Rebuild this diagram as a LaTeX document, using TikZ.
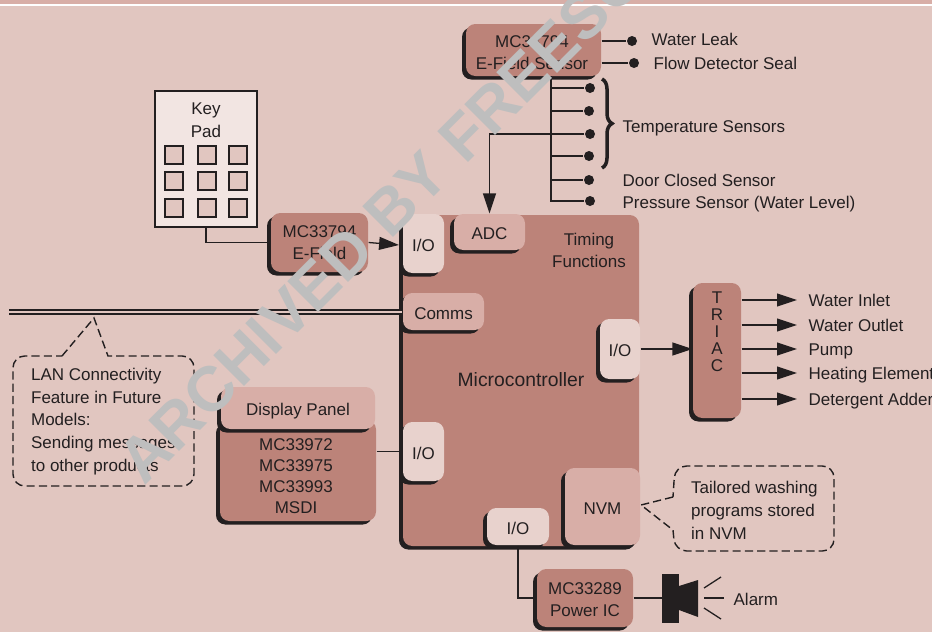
\documentclass[tikz,border=0pt]{standalone}
\usepackage{fontspec}
\setmainfont{Liberation Sans}
\usetikzlibrary{arrows.meta,shadows,decorations.pathreplacing}
\definecolor{pagebg}{HTML}{E1C6C0}
\definecolor{stripbg}{HTML}{D8AEA7}
\definecolor{darkfill}{HTML}{BC8379}
\definecolor{midfill}{HTML}{D8AEA7}
\definecolor{lightfill}{HTML}{E8D2CD}
\definecolor{padfill}{HTML}{F2E5E2}
\definecolor{ink}{HTML}{231F20}
\definecolor{stamp}{HTML}{BEBEBE}
\tikzset{
    every node/.style={font=\fontsize{14.5}{18.8}\selectfont, text=ink},
    shadowed/.style={general shadow={fill=ink, shadow xshift=-3.4pt, shadow yshift=-3pt}},
    darkbox/.style={shadowed, fill=darkfill, rounded corners=8pt, inner sep=0pt, align=center},
    midbox/.style={shadowed, fill=midfill, rounded corners=8pt, inner sep=0pt, text height=13.5pt, text depth=0pt},
    lightbox/.style={shadowed, fill=lightfill, rounded corners=8pt, inner sep=0pt, text height=13.5pt, text depth=0pt},
    keybox/.style={draw=ink, line width=1.5pt, fill=pagebg, minimum size=0.52cm, inner sep=0pt},
    dot/.style={circle, fill=ink, minimum size=0.3cm, inner sep=0pt},
    tag/.style={anchor=west, inner sep=0pt, text height=10.4pt, text depth=0pt},
    outtag/.style={anchor=west, inner xsep=0.33cm, inner ysep=0pt, text height=10.4pt, text depth=0pt},
    notetext/.style={anchor=west, align=left, inner sep=0pt, font=\fontsize{14.5}{19.4}\selectfont},
    callout/.style={draw=ink, line width=1.2pt, dash pattern=on 7pt off 3.5pt},
}
\begin{document}
\begin{tikzpicture}[x=0.03cm, y=-0.03cm, >={Triangle[length=17pt,width=11pt]}, line width=1.1pt, color=ink]
    \useasboundingbox (0,0) rectangle (932,632);
    \fill[pagebg] (0,0) rectangle (932,632);
    \fill[stripbg] (0,0) rectangle (932,4);
    \draw[white, line width=1pt] (0,5) -- (932,5);

    % keypad
    \node[draw=ink, line width=1.6pt, fill=padfill, minimum width=3.06cm, minimum height=4.08cm] (keypad) at (206,159) {};
    \node (keytext) at (206,120.5) [align=center] {Key\\[0.6pt]Pad};
    \node[keybox] (k1) at (174,155) {};
    \node[keybox] (k2) at (207,155) {};
    \node[keybox] (k3) at (238,155) {};
    \node[keybox] (k4) at (174,181) {};
    \node[keybox] (k5) at (207,181) {};
    \node[keybox] (k6) at (238,181) {};
    \node[keybox] (k7) at (174,208) {};
    \node[keybox] (k8) at (207,208) {};
    \node[keybox] (k9) at (238,208) {};

    % sensors
    \node[darkbox, minimum width=4.05cm, minimum height=1.56cm] (sensor) at (533.5,50) {};
    \node (sensortext) at (532,52.5) [align=center] {MC33794\\E-Field Sensor};
    \node[dot] (leak) at (632,41) {};
    \node[dot] (flow) at (634,63) {};
    \node[tag] (leaktext) at (651,39) {Water Leak};
    \node[tag] (flowtext) at (653,63) {Flow Detector Seal};
    \coordinate (trunk) at (551,76);
    \node[dot] (temp1) at (590,88) {};
    \node[dot] (temp2) at (589,111) {};
    \node[dot] (temp3) at (590,134) {};
    \node[dot] (temp4) at (589,156) {};
    \node[dot] (door) at (589,180) {};
    \node[dot] (press) at (590,201) {};
    \node[tag] (temptext) at (622,126) {Temperature Sensors};
    \node[tag] (doortext) at (622,180) {Door Closed Sensor};
    \node[tag] (presstext) at (622,202) {Pressure Sensor (Water Level)};
    \coordinate (bracetop) at (602,79);
    \coordinate (bracebot) at (602,168);

    % microcontroller and its blocks
    \node[darkbox, minimum width=7.08cm, minimum height=9.93cm] (micro) at (521,380.5) {};
    \node (microtext) at (521,380) [font=\fontsize{16.5}{18.8}\selectfont] {Microcontroller};
    \node (timing) at (589,250) [align=center] {Timing\\Functions};
    \node[lightbox, minimum width=1.23cm, minimum height=1.77cm] (iotop) at (423.5,243.5) {I/O};
    \node[midbox, minimum width=2.13cm, minimum height=1.08cm] (adc) at (489.5,232) {ADC};
    \node[midbox, minimum width=2.43cm, minimum height=1.11cm] (comms) at (443.5,311.5) {Comms};
    \node[lightbox, minimum width=1.2cm, minimum height=1.8cm] (ioright) at (620,349) {I/O};
    \node[lightbox, minimum width=1.23cm, minimum height=1.77cm] (ioleft) at (423.5,451.5) {I/O};
    \node[midbox, minimum width=2.25cm, minimum height=2.31cm] (nvm) at (602.5,506.5) {NVM};
    \node[lightbox, minimum width=1.86cm, minimum height=1.11cm] (iobot) at (518,526.5) {I/O};

    % e-field, display, triac, power
    \node[darkbox, minimum width=2.91cm, minimum height=1.77cm] (efield) at (319.5,242.5) {MC33794\\E-Field};
    \node[darkbox, minimum width=4.68cm, minimum height=3.03cm] (panel) at (298,470.5) {};
    \node (paneltext) at (296,476.5) [align=center, font=\fontsize{14.5}{18}\selectfont] {MC33972\\MC33975\\MC33993\\MSDI};
    \node[midbox, minimum width=4.62cm, minimum height=1.26cm] (display) at (298,408) {Display Panel};
    \node[darkbox, minimum width=1.44cm, minimum height=4.05cm] (triac) at (717,350.5) {};
    \node (triactext) at (717,332) [align=center, font=\fontsize{14.5}{14.5}\selectfont] {T\\R\\I\\A\\C};
    \node[darkbox, minimum width=2.88cm, minimum height=1.74cm] (power) at (585,598) {};
    \node (powertext) at (585,600) [align=center] {MC33289\\Power IC};

    % outputs
    \node[outtag] (inlet) at (797,300) {Water Inlet};
    \node[outtag] (outlet) at (797,325) {Water Outlet};
    \node[outtag] (pump) at (797,349) {Pump};
    \node[outtag] (heater) at (797,373) {Heating Element};
    \node[outtag] (adder) at (797,399) {Detergent Adder};

    % alarm
    \fill[ink] (662,574) rectangle (679,623);
    \fill[ink] (679,586) -- (698,580) -- (698,617) -- (679,610) -- cycle;
    \coordinate (horn) at (662,598);
    \coordinate (sound) at (704,598);
    \node[tag] (alarm) at (733,599) {Alarm};
    \draw (sound) -- (724,598);
    \draw (704,588) -- (721,577);
    \draw (704,608) -- (721,619);

    % callouts
    \draw[callout] (62,356) -- (94,318) -- (108,356) [rounded corners=10pt] -- (194,356) -- (194,486) -- (13,486) -- (13,356) -- (62,356);
    \node[notetext] (lantext) at (30.5,421.5) {LAN Connectivity\\Feature in Future\\Models:\\Sending messages\\to other products};
    \draw[callout] (673,497) -- (641,505) -- (673,530) [rounded corners=10pt] -- (675,551) -- (834,551) -- (834,466) -- (675,466) -- (673,497);
    \node[notetext] (nvmtext) at (690.5,510.5) {Tailored washing\\programs stored\\in NVM};

    % connectors
    \draw (keypad.south) |- (efield.west);
    \draw[->] (efield.east) -- (399,245);
    \draw (sensor.east |- leak) -- (leak);
    \draw (sensor.east |- flow) -- (flow);
    \draw (trunk) |- (temp1);
    \draw (trunk) |- (temp2);
    \draw (trunk) |- (temp3);
    \draw (trunk) |- (temp4);
    \draw (trunk) |- (door);
    \draw (trunk) |- (press);
    \draw[->] (temp3) -| (adc.north);
    \draw[line width=3pt, decorate, decoration={brace, amplitude=0.3cm}] (bracetop) -- (bracebot);
    \draw[double=pagebg, double distance=2.4pt, line width=1pt] (9,312) -- (9,312 -| comms.west);
    \draw (panel.east |- ioleft) -- (ioleft.west);
    \draw[->] (ioright.east) -- (triac.west |- ioright);
    \draw[->] (triac.east |- inlet) -- (inlet.west);
    \draw[->] (triac.east |- outlet) -- (outlet.west);
    \draw[->] (triac.east |- pump) -- (pump.west);
    \draw[->] (triac.east |- heater) -- (heater.west);
    \draw[->] (triac.east |- adder) -- (adder.west);
    \draw (iobot.south) |- (power.west);
    \draw (power.east) -- (horn);

    % stamp across the page
    \begin{scope}
        \clip (0,0) rectangle (932,632);
        \node[anchor=base west, rotate=45, inner sep=0pt, text=stamp, font=\fontsize{54}{54}\selectfont\bfseries] (stampline) at (144,487) {ARCHIVED BY FREESC};
    \end{scope}
\end{tikzpicture}
\end{document}
